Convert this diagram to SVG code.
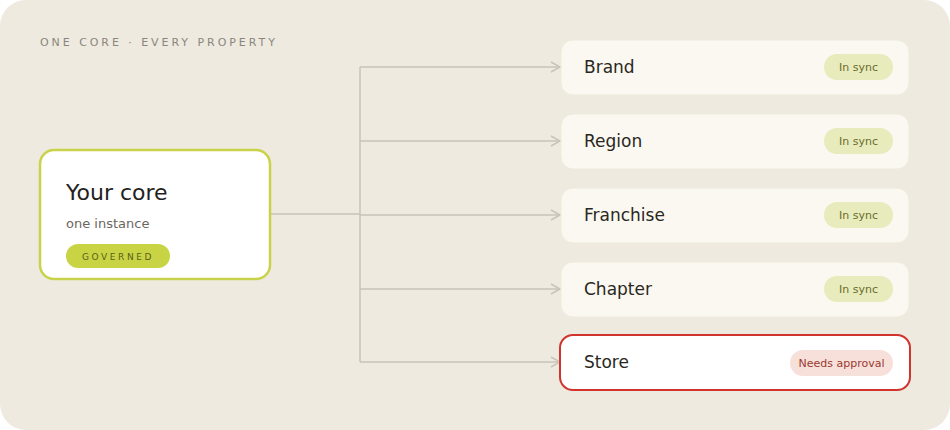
<svg xmlns="http://www.w3.org/2000/svg" width="950" height="430" viewBox="0 0 950 430">
<defs>
<style>
text{font-family:"DejaVu Sans","Liberation Sans",sans-serif}
.lbl{font-size:17px;fill:#2a2722}
.card{fill:#FAF8F0;stroke:#EEEADC;stroke-width:1}
.pill{fill:#E8EBBC}
.ptx{font-size:11px;fill:#6a6b2a;text-anchor:middle}
.conn{fill:none;stroke:#C9C3B8;stroke-width:1.5}
</style>
<marker id="arr" markerWidth="12" markerHeight="12" refX="10" refY="6" orient="auto" markerUnits="userSpaceOnUse">
<path d="M1,1 L10,6 L1,11" fill="none" stroke="#C9C3B8" stroke-width="1.5"/>
</marker>
</defs>
<rect x="0" y="0" width="950" height="430" rx="26" fill="#EEEAE0"/>
<text x="40" y="46" font-size="11" letter-spacing="2.95" fill="#8a867c">ONE CORE · EVERY PROPERTY</text>
<g id="connectors">
<path class="conn" d="M271,214 H360"/>
<path class="conn" d="M360,67 V362"/>
<path class="conn" d="M360,67 H560" marker-end="url(#arr)"/>
<path class="conn" d="M360,141 H560" marker-end="url(#arr)"/>
<path class="conn" d="M360,215 H560" marker-end="url(#arr)"/>
<path class="conn" d="M360,289 H560" marker-end="url(#arr)"/>
<path class="conn" d="M360,362 H560" marker-end="url(#arr)"/>
</g>
<g id="core">
<rect x="40" y="150" width="230" height="129" rx="14" fill="#FFFFFF" stroke="#C9D34A" stroke-width="2.5"/>
<text x="66" y="200" font-size="22" fill="#23211d">Your core</text>
<text x="66" y="228" font-size="13" fill="#6b6760">one instance</text>
<rect x="66" y="244" width="104" height="24" rx="12" fill="#C8D444"/>
<text x="118" y="260" font-size="9" letter-spacing="2.6" fill="#5a5f1a" text-anchor="middle">GOVERNED</text>
</g>
<g id="brand">
<rect class="card" x="561" y="40" width="348" height="55" rx="12"/>
<text class="lbl" x="584" y="73">Brand</text>
<rect class="pill" x="824" y="54" width="69" height="26" rx="13"/>
<text class="ptx" x="858.5" y="71">In sync</text>
</g>
<g id="region">
<rect class="card" x="561" y="114" width="348" height="55" rx="12"/>
<text class="lbl" x="584" y="147">Region</text>
<rect class="pill" x="824" y="128" width="69" height="26" rx="13"/>
<text class="ptx" x="858.5" y="145">In sync</text>
</g>
<g id="franchise">
<rect class="card" x="561" y="188" width="348" height="55" rx="12"/>
<text class="lbl" x="584" y="221">Franchise</text>
<rect class="pill" x="824" y="202" width="69" height="26" rx="13"/>
<text class="ptx" x="858.5" y="219">In sync</text>
</g>
<g id="chapter">
<rect class="card" x="561" y="262" width="348" height="55" rx="12"/>
<text class="lbl" x="584" y="295">Chapter</text>
<rect class="pill" x="824" y="276" width="69" height="26" rx="13"/>
<text class="ptx" x="858.5" y="293">In sync</text>
</g>
<g id="store">
<rect x="560" y="335" width="350" height="55" rx="13" fill="#FFFFFF" stroke="#D0342C" stroke-width="2"/>
<text class="lbl" x="584" y="368">Store</text>
<rect x="790" y="350" width="103" height="26" rx="13" fill="#F8E0DA"/>
<text x="841.5" y="367" font-size="11" fill="#9a3a30" text-anchor="middle">Needs approval</text>
</g>
</svg>
